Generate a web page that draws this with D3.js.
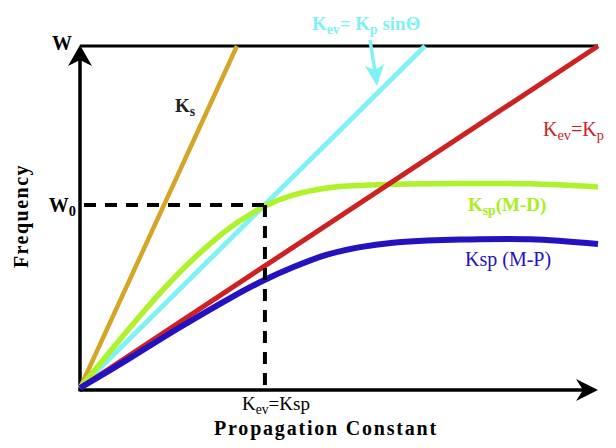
<!DOCTYPE html>
<html>
<head>
<meta charset="utf-8">
<script src="https://cdn.jsdelivr.net/npm/d3@7"></script>
<style>
  html, body { margin: 0; padding: 0; background: #fff; }
  svg { display: block; font-family: "Liberation Serif", "Times New Roman", serif; }
</style>
</head>
<body>
<div id="chart"></div>
<script>
// dispersion sketch: frequency vs propagation constant
const ksLine    = [[0, 0], [3.03, 10]];
const kpSinLine = [[0, 0], [6.66, 10]];
const kpLine    = [[0, 0], [10, 10]];
const kspMD = [[0, 0], [0.5, 0.92], [1, 1.83], [1.5, 2.7], [2, 3.5], [2.5, 4.2], [3, 4.8],
               [3.57, 5.32], [4.11, 5.64], [4.77, 5.85], [5.5, 5.93], [6.04, 5.96],
               [7.34, 5.98], [8.69, 5.97], [10, 5.88]];
const kspMP = [[0, 0], [0.97, 0.88], [1.89, 1.74], [2.9, 2.63], [3.55, 3.15], [4.11, 3.53],
               [4.77, 3.9], [5.41, 4.12], [6.04, 4.25], [6.7, 4.31], [7.34, 4.34],
               [8.69, 4.35], [10, 4.21]];
const W0 = 5.35;     // frequency of the dashed guide
const K0 = 3.57;     // propagation constant where K_ev = K_sp

const width = 616, height = 448;

const svg = d3.select("#chart").append("svg")
    .attr("width", width)
    .attr("height", height);

const x = d3.scaleLinear().domain([0, 10]).range([80, 598]);
const y = d3.scaleLinear().domain([0, 10]).range([388, 46]);

const line = d3.line().x(d => x(d[0])).y(d => y(d[1]));
const smooth = d3.line().x(d => x(d[0])).y(d => y(d[1])).curve(d3.curveCatmullRom.alpha(0.5));

// ── Frame / axes ────────────────────────────────────────────────────────
svg.append("line")
    .attr("x1", x(0)).attr("x2", x(10))
    .attr("y1", y(10)).attr("y2", y(10))
    .attr("stroke", "#000").attr("stroke-width", 3);

svg.append("line")
    .attr("x1", x(0)).attr("x2", x(10) - 12)
    .attr("y1", y(0) + 2).attr("y2", y(0) + 2)
    .attr("stroke", "#000").attr("stroke-width", 3.5);

svg.append("line")
    .attr("x1", x(0)).attr("x2", x(0))
    .attr("y1", y(0) + 3.5).attr("y2", y(10) + 12)
    .attr("stroke", "#000").attr("stroke-width", 3.5);

// arrow heads
const ax = x(0), ay = y(10) - 1;
svg.append("path")
    .attr("d", `M${ax},${ay} L${ax + 12},${ay + 21} L${ax},${ay + 15} L${ax - 12},${ay + 21} Z`)
    .attr("fill", "#000");

const bx = x(10), by = y(0) + 2;
svg.append("path")
    .attr("d", `M${bx},${by} L${bx - 22},${by - 11} L${bx - 15},${by} L${bx - 22},${by + 11} Z`)
    .attr("fill", "#000");

// ── Curves ──────────────────────────────────────────────────────────────
svg.append("path").datum(ksLine).attr("d", line)
    .attr("fill", "none").attr("stroke", "#d4a526").attr("stroke-width", 4.5);

svg.append("path").datum(kpSinLine).attr("d", line)
    .attr("fill", "none").attr("stroke", "#80f2f6").attr("stroke-width", 5);

svg.append("path").datum(kspMD).attr("d", smooth)
    .attr("fill", "none").attr("stroke", "#adf22a").attr("stroke-width", 5.5);

svg.append("path").datum(kpLine).attr("d", line)
    .attr("fill", "none").attr("stroke", "#cc2222").attr("stroke-width", 5);

svg.append("path").datum(kspMP).attr("d", smooth)
    .attr("fill", "none").attr("stroke", "#2412c0").attr("stroke-width", 6);

// ── Dashed guides ───────────────────────────────────────────────────────
svg.append("line")
    .attr("x1", x(0) + 4).attr("x2", x(K0))
    .attr("y1", y(W0)).attr("y2", y(W0))
    .attr("stroke", "#000").attr("stroke-width", 4)
    .attr("stroke-dasharray", "12,9");

svg.append("line")
    .attr("x1", x(K0)).attr("x2", x(K0))
    .attr("y1", y(W0)).attr("y2", y(0))
    .attr("stroke", "#000").attr("stroke-width", 4)
    .attr("stroke-dasharray", "12,9");

// ── Labels ──────────────────────────────────────────────────────────────
// parts: {t, sub:true} for subscript pieces
function label(px, py, parts, opts) {
    const t = svg.append("text")
        .attr("x", px).attr("y", py)
        .style("font-size", opts.size + "px")
        .style("font-weight", opts.weight || "bold")
        .style("fill", opts.color || "#000")
        .attr("text-anchor", opts.anchor || "start");
    let low = false;
    parts.forEach(p => {
        const s = t.append("tspan").text(p.t);
        if (p.sub) {
            s.style("font-size", (opts.size * 0.72) + "px");
            if (!low) s.attr("dy", 4);
            low = true;
        } else if (low) {
            s.attr("dy", -4);
            low = false;
        }
    });
    return t;
}

label(x(0) - 8, y(10) + 4, [{ t: "W" }], { size: 20, anchor: "end" });
label(x(0) - 4, y(W0) + 7, [{ t: "W" }, { t: "0", sub: true }], { size: 20, anchor: "end" });

label(x(K0) + 11, 410, [{ t: "K" }, { t: "ev", sub: true }, { t: "=Ksp" }],
      { size: 19, weight: "normal", anchor: "middle" });

svg.append("text")
    .attr("x", 326).attr("y", 435)
    .attr("text-anchor", "middle")
    .style("font-size", "20px").style("font-weight", "bold")
    .style("letter-spacing", "1.8px")
    .text("Propagation Constant");

svg.append("text")
    .attr("transform", "translate(28,216) rotate(-90)")
    .attr("text-anchor", "middle")
    .style("font-size", "20px").style("font-weight", "bold")
    .style("letter-spacing", "1.5px")
    .text("Frequency");

label(175, 112, [{ t: "K" }, { t: "s", sub: true }], { size: 19, color: "#222" });

label(312, 30, [{ t: "K" }, { t: "ev", sub: true }, { t: "= K" }, { t: "p", sub: true }, { t: " sinΘ" }],
      { size: 19, color: "#7ff0f6" });

label(543, 136, [{ t: "K" }, { t: "ev", sub: true }, { t: "=K" }, { t: "p", sub: true }],
      { size: 20, weight: "normal", color: "#cc2222" });

label(468, 211, [{ t: "K" }, { t: "sp", sub: true }, { t: "(M-D)" }],
      { size: 19, color: "#a8ee22" });

label(465, 266, [{ t: "Ksp (M-P)" }], { size: 20, weight: "normal", color: "#2412c0" });

// pointer from the K_p sinΘ label
svg.append("line")
    .attr("x1", 370).attr("y1", 40).attr("x2", 375).attr("y2", 72)
    .attr("stroke", "#80f2f6").attr("stroke-width", 3.5);
svg.append("path")
    .attr("d", "M365,66 L377,86 L384,64 L375,70 Z")
    .attr("fill", "#80f2f6");
</script>
</body>
</html>
